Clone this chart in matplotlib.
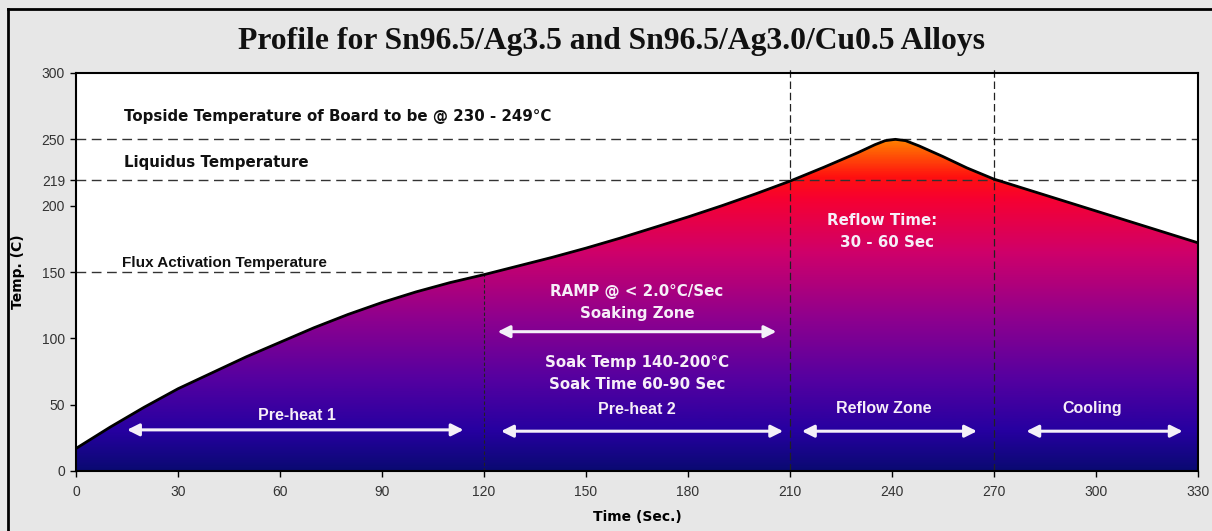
import matplotlib
matplotlib.use("Agg")
import matplotlib.pyplot as plt
import numpy as np
from matplotlib.colors import LinearSegmentedColormap
from matplotlib.lines import Line2D

# ---- data ----
time_s = [0, 10, 20, 30, 40, 50, 60, 70, 80, 90, 100, 110, 120, 130, 140, 150, 160,
          170, 180, 190, 200, 210, 220, 230, 235, 238, 241, 244, 248, 255, 262, 270,
          280, 290, 300, 310, 320, 330]
temp_c = [17, 33, 48, 62, 74, 86, 97, 108, 118, 127, 135, 142, 148, 154.5, 161, 168, 175.5,
          183.5, 191.5, 200, 209, 218.5, 229, 240, 246, 249, 250, 249, 245, 237, 228.5, 220,
          212, 204, 196, 188, 180, 172]

x_ticks = [0, 30, 60, 90, 120, 150, 180, 210, 240, 270, 300, 330]
y_ticks = [0, 50, 100, 150, 200, 219, 250, 300]

topside_temp = 250
liquidus_temp = 219
flux_temp = 150
zone_bounds = [120, 210, 270]

title = "Profile for Sn96.5/Ag3.5 and Sn96.5/Ag3.0/Cu0.5 Alloys"

# zone arrows: (start, end, y)
zone_arrows = [(15, 114, 31), (124, 206, 105), (125, 208, 30), (213.5, 265, 30), (279.5, 325.5, 30)]

# ---- figure ----
W, H = 1212, 531
fig = plt.figure(figsize=(W / 100, H / 100), dpi=100)
fig.patch.set_facecolor("#e7e7e7")

# outer frame (top and left)
fig.add_artist(Line2D([8 / W, 1.0], [1 - 9 / H, 1 - 9 / H], transform=fig.transFigure, color="black", lw=2))
fig.add_artist(Line2D([8 / W, 8 / W], [0, 1 - 9 / H], transform=fig.transFigure, color="black", lw=2))

ax = fig.add_axes([76 / W, (H - 471) / H, 1122 / W, 398 / H])
ax.set_facecolor("white")
ax.set_xlim(0, 330)
ax.set_ylim(0, 300)

# gradient fill under curve
cmap = LinearSegmentedColormap.from_list("reflow", [
    (0.0, "#0a0a72"),
    (30 / 250, "#2600a0"),
    (70 / 250, "#5600a0"),
    (115 / 250, "#8e008e"),
    (165 / 250, "#cf006a"),
    (205 / 250, "#f60032"),
    (222 / 250, "#ff1010"),
    (1.0, "#ff8000"),
])
grad = np.linspace(0, 1, 400).reshape(-1, 1)
poly = ax.fill_between(time_s, 0, temp_c, color="none", lw=0)
img = ax.imshow(grad, extent=[0, 330, 0, 250], origin="lower", aspect="auto", cmap=cmap, zorder=1)
path = poly.get_paths()[0]
img.set_clip_path(path, transform=ax.transData)
ax.plot(time_s, temp_c, color="black", lw=2, zorder=4, solid_joinstyle="round")

# reference lines
dash = (0, (7, 4))
ax.axhline(topside_temp, color="#333333", lw=1, ls=dash, zorder=3)
ax.axhline(liquidus_temp, color="#333333", lw=1, ls=dash, zorder=3)
ax.plot([0, zone_bounds[0]], [flux_temp, flux_temp], color="#333333", lw=1, ls=dash, zorder=3)
ax.plot([zone_bounds[0], zone_bounds[0]], [0, flux_temp], color="#222222", lw=0.8, ls=(0, (3, 2)), zorder=3)
for xb in zone_bounds[1:]:
    ax.plot([xb, xb], [0, 303], color="#222222", lw=0.9, ls=(0, (6, 3)), zorder=3, clip_on=False)

# labels above/at lines
ax.text(14, 267, "Topside Temperature of Board to be @ 230 - 249°C", fontsize=10.8, fontweight="bold",
        family="DejaVu Sans", color="#111111", va="center", ha="left")
ax.text(14, 232.5, "Liquidus Temperature", fontsize=10.8, fontweight="bold",
        family="DejaVu Sans", color="#111111", va="center", ha="left")
ax.text(13.5, 157, "Flux Activation Temperature", fontsize=11, fontweight="bold",
        family="Liberation Sans", color="#111111", va="center", ha="left")

wc = "#f6eef8"
dv = dict(fontsize=10.8, fontweight="bold", family="DejaVu Sans", color=wc, ha="center", va="center", zorder=5)
ls_ = dict(fontsize=11.5, fontweight="bold", family="Liberation Sans", color=wc, ha="center", va="center", zorder=5)
ax.text(165, 135.5, "RAMP @ < 2.0°C/Sec", **dv)
ax.text(165, 119, "Soaking Zone", **dv)
ax.text(165, 82, "Soak Temp 140-200°C", **dv)
ax.text(165, 65.5, "Soak Time 60-90 Sec", **dv)
ax.text(165, 46.5, "Pre-heat 2", **ls_)
ax.text(65, 42, "Pre-heat 1", **ls_)
ax.text(237.5, 47, "Reflow Zone", **ls_)
ax.text(299, 47, "Cooling", **ls_)
ax.text(237, 189, "Reflow Time:", **dv)
ax.text(238.5, 172.5, "30 - 60 Sec", **dv)

for x0, x1, y in zone_arrows:
    ax.annotate("", xy=(x1, y), xytext=(x0, y),
                arrowprops=dict(arrowstyle="<|-|>", color="#f4f0f8", lw=2.2,
                                mutation_scale=18, shrinkA=0, shrinkB=0), zorder=5)

# axes styling
ax.set_xticks(x_ticks)
ax.set_yticks(y_ticks)
ax.tick_params(axis="x", labelsize=10, length=4, width=1, direction="out", pad=6)
ax.tick_params(axis="y", labelsize=10, length=4, width=1, direction="out", pad=4)
for lab in ax.get_xticklabels() + ax.get_yticklabels():
    lab.set_family("Liberation Sans")
ax.tick_params(axis="both", colors="black", labelcolor="#333333")
for sp in ax.spines.values():
    sp.set_linewidth(1.5)
    sp.set_color("black")
    sp.set_zorder(6)

ax.set_xlabel("Time (Sec.)", fontsize=10, fontweight="bold", family="DejaVu Sans", labelpad=8)
ax.set_ylabel("Temp. (C)", fontsize=10, fontweight="bold", family="DejaVu Sans", labelpad=12)

fig.text(612 / W, 1 - 41 / H, title, fontsize=22.8, fontweight="bold", family="Liberation Serif",
         ha="center", va="center", color="#111111")

fig.savefig("out.png", dpi=100, facecolor=fig.get_facecolor())
